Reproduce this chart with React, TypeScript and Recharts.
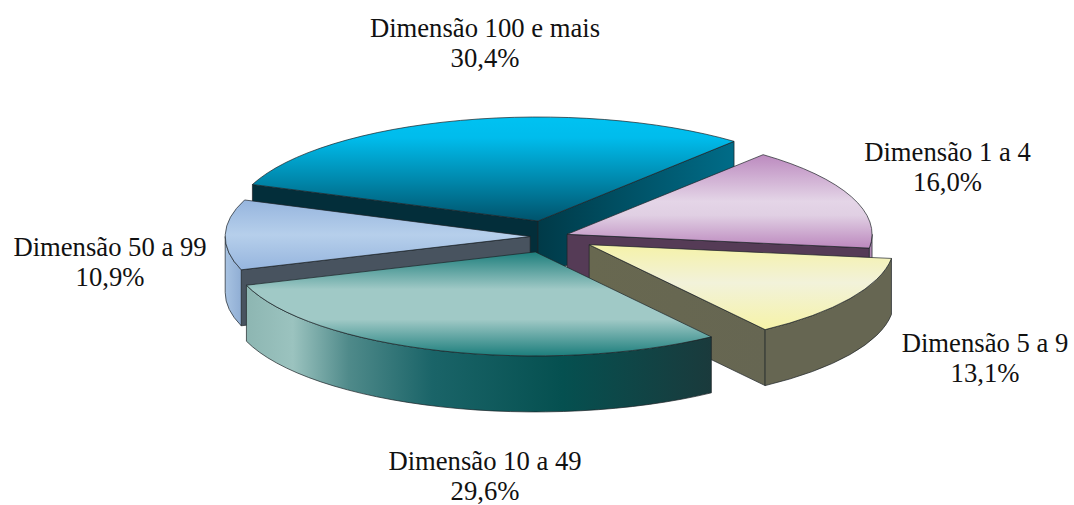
import React from "react";
import { PieChart, Pie } from "recharts";

const categories = ["Dimensão 1 a 4", "Dimensão 5 a 9", "Dimensão 10 a 49", "Dimensão 50 a 99", "Dimensão 100 e mais"];
const shares = [16.0, 13.1, 29.6, 10.9, 30.4];
const explode = [0.06, 0.15, 0.155, 0.065, 0.155];
const paintOrder = [4, 3, 0, 1, 2];

const tableData = categories.map((name, i) => ({ name, value: shares[i], explode: explode[i], index: i }));

const SQUASH = 104 / 305;
const DEPTH = 56;
const FONT = "'Liberation Serif', 'Times New Roman', serif";
const EDGE = "#1c2326";

const labelAnchors = [
  { x: 947.5, y: 161 },
  { x: 985, y: 352 },
  { x: 485, y: 470 },
  { x: 110, y: 256 },
  { x: 485, y: 37 },
];

const radialWallFill = ["#553b56", "url(#wallYellowCut)", "#1a4a4a", "#48535f", "url(#wallBlueCut)"];
const radialWallFillAlt = ["#553b56", "#686850", "#1a4a4a", "#48535f", "#032e3a"];
const outerWallFill = ["#b08ab4", "#666652", "url(#wallTeal)", "url(#wallLight)", "#006a85"];

const rad = (d: number) => (d * Math.PI) / 180;

function makeSlice(target: number) {
  return function Slice(props: any) {
    const { cx, cy, outerRadius, startAngle, endAngle } = props;
    const idx = props.index ?? props.payload?.index;
    if (idx !== target) return <g />;
    const rx = outerRadius;
    const ry = outerRadius * SQUASH;
    const t1 = -startAngle;
    const t2 = -endAngle;
    const mid = (t1 + t2) / 2;
    const e = explode[target];
    const ax = cx + e * rx * Math.cos(rad(mid));
    const ay = cy + e * ry * Math.sin(rad(mid));
    const pt = (t: number) => ({ x: ax + rx * Math.cos(rad(t)), y: ay + ry * Math.sin(rad(t)) });
    const s = pt(t1);
    const f = pt(t2);
    const large = t2 - t1 > 180 ? 1 : 0;
    const top = `M${ax},${ay} L${s.x},${s.y} A${rx},${ry} 0 ${large} 1 ${f.x},${f.y} Z`;
    const quad = (p: { x: number; y: number }) =>
      `M${ax},${ay} L${p.x},${p.y} L${p.x},${p.y + DEPTH} L${ax},${ay + DEPTH} Z`;
    const showStart = Math.cos(rad(t1)) < 0;
    const showEnd = Math.cos(rad(t2)) > 0;
    const oa = Math.max(t1, 0);
    const ob = Math.min(t2, 180);
    let outer: string | null = null;
    if (ob > oa) {
      const a = pt(oa);
      const b = pt(ob);
      outer = `M${a.x},${a.y} A${rx},${ry} 0 0 1 ${b.x},${b.y} L${b.x},${b.y + DEPTH} A${rx},${ry} 0 0 0 ${a.x},${a.y + DEPTH} Z`;
    }
    const topFill = ["url(#topPurple)", "url(#topYellow)", "url(#topTeal)", "url(#topLight)", "url(#topBlue)"][target];
    return (
      <g>
        {showStart && <path d={quad(s)} fill={radialWallFillAlt[target]} stroke={EDGE} strokeWidth={0.7} />}
        {showEnd && <path d={quad(f)} fill={radialWallFill[target]} stroke={EDGE} strokeWidth={0.7} />}
        {outer && <path d={outer} fill={outerWallFill[target]} stroke={EDGE} strokeWidth={0.7} />}
        <path d={top} fill={topFill} stroke={EDGE} strokeWidth={0.7} strokeLinejoin="round" />
      </g>
    );
  };
}

function renderLabel(props: any) {
  const i = props.index;
  const a = labelAnchors[i];
  return (
    <text key={i} textAnchor="middle" fontFamily={FONT} fontSize={26.67} fill="#111">
      <tspan x={a.x} y={a.y}>{categories[i]}</tspan>
      <tspan x={a.x} y={a.y + 30}>{shares[i].toFixed(1).replace(".", ",") + "%"}</tspan>
    </text>
  );
}

const vStops = (id: string, stops: [number, string][]) => (
  <linearGradient id={id} x1="0" y1="0" x2="0" y2="1">
    {stops.map(([o, c]) => (
      <stop key={o} offset={o} stopColor={c} />
    ))}
  </linearGradient>
);
const hStops = (id: string, stops: [number, string][]) => (
  <linearGradient id={id} x1="0" y1="0" x2="1" y2="0">
    {stops.map(([o, c]) => (
      <stop key={o} offset={o} stopColor={c} />
    ))}
  </linearGradient>
);

export default function App() {
  return (
    <div style={{ position: "absolute", left: 0, top: 0, width: 1074, height: 505, background: "#fff" }}>
      <PieChart width={1074} height={505} margin={{ top: 0, right: 0, bottom: 0, left: 0 }}>
        <defs>
          {vStops("topBlue", [[0, "#00c2f2"], [0.2, "#00bcec"], [0.6, "#0089ad"], [1, "#00536c"]])}
          {vStops("topPurple", [[0, "#bc8abf"], [0.5, "#e4d5e7"], [0.65, "#e0cfe3"], [1, "#bc88be"]])}
          {vStops("topYellow", [[0, "#f5f2a8"], [0.45, "#f2f2da"], [1, "#f6f3a8"]])}
          {vStops("topTeal", [[0, "#1d7e7c"], [0.36, "#a0c9c6"], [0.65, "#a0c9c6"], [1, "#1c7e7c"]])}
          {vStops("topLight", [[0, "#96b5de"], [0.5, "#b6cfeb"], [1, "#96b5de"]])}
          {hStops("wallTeal", [[0, "#8db6b2"], [0.1, "#9bc3bf"], [0.22, "#4f8a8a"], [0.4, "#1a6468"], [0.68, "#055050"], [1, "#1a3a3c"]])}
          {hStops("wallLight", [[0, "#a8c3e2"], [1, "#90aed4"]])}
          {hStops("wallBlueCut", [[0, "#003a48"], [1, "#006c88"]])}
          {hStops("wallYellowCut", [[0, "#686850"], [1, "#666652"]])}
        </defs>
        {paintOrder.map((target, z) => (
          <Pie
            key={target}
            data={tableData}
            dataKey="value"
            nameKey="name"
            cx={550}
            cy={236.6}
            innerRadius={0}
            outerRadius={305}
            startAngle={50}
            endAngle={-310}
            stroke="none"
            isAnimationActive={false}
            shape={makeSlice(target)}
            label={z === paintOrder.length - 1 ? renderLabel : false}
            labelLine={false}
          />
        ))}
      </PieChart>
    </div>
  );
}
